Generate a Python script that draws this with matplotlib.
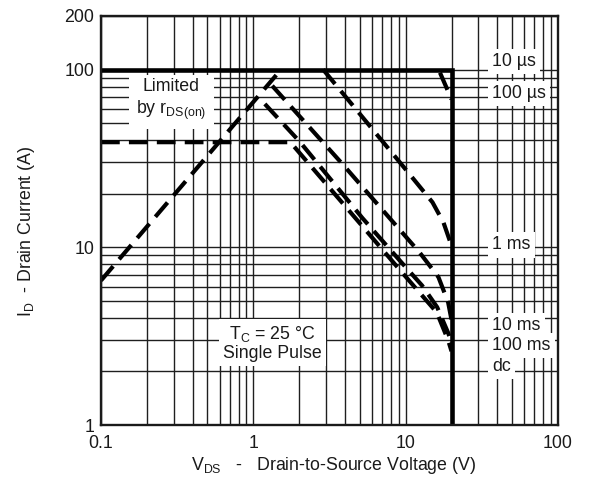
import matplotlib
matplotlib.use("Agg")
import matplotlib.pyplot as plt
from matplotlib.ticker import FixedLocator, NullFormatter

plt.rcParams["font.family"] = ["Liberation Sans", "DejaVu Sans"]
plt.rcParams["mathtext.fontset"] = "custom"
plt.rcParams["mathtext.rm"] = "Liberation Sans"
plt.rcParams["mathtext.it"] = "Liberation Sans:italic"

# safe operating area
limit_v = [0.1, 20, 20]
limit_i = [100, 100, 1]

rds_v = [0.1, 1.52]
rds_i = [6.5, 100]

us100_v = [16.8, 20]
us100_i = [96, 68]

ms1_v = [2.87, 9.6, 15.0, 17.7, 20]
ms1_i = [100, 28.6, 17.9, 13.8, 10.2]

ms10_v = [1.33, 3.9, 12.4, 16.4, 19.0, 20]
ms10_i = [81, 29.0, 9.3, 6.8, 4.9, 3.9]

ms100_v = [1.19, 2.03, 5.2, 9.4, 12.8, 16.1, 19.0, 20]
ms100_i = [64, 39.0, 14.6, 8.2, 6.1, 4.6, 3.3, 2.9]

dc_v = [0.1, 1.75, 9.1, 16.0, 19.0, 20]
dc_i = [39, 39, 7.5, 4.3, 3.0, 2.6]

x_major = [0.1, 1, 10, 100]
x_labels = ["0.1", "1", "10", "100"]
y_major = [1, 10, 100, 200]
y_labels = ["1", "10", "100", "200"]

fs = 12.8

fig = plt.figure(figsize=(5.91, 4.79), dpi=100)
ax = fig.add_axes([101 / 591, 1 - 425 / 479, 457 / 591, 409 / 479])
ax.set_xscale("log")
ax.set_yscale("log")
ax.set_xlim(0.1, 100)
ax.set_ylim(1, 200)

x_minor = [m * d for d in (0.1, 1, 10) for m in range(2, 10)]
y_minor = [m * d for d in (1, 10) for m in range(2, 10)]
ax.xaxis.set_major_locator(FixedLocator(x_major))
ax.xaxis.set_minor_locator(FixedLocator(x_minor))
ax.yaxis.set_major_locator(FixedLocator(y_major))
ax.yaxis.set_minor_locator(FixedLocator(y_minor))
ax.set_xticklabels(x_labels)
ax.set_yticklabels(y_labels)
ax.xaxis.set_minor_formatter(NullFormatter())
ax.yaxis.set_minor_formatter(NullFormatter())
ax.tick_params(which="both", length=0, labelsize=fs, labelcolor="0.1")
ax.tick_params(axis="x", pad=7)
ax.tick_params(axis="y", pad=5)

ax.set_axisbelow(True)
ax.grid(which="both", color="0.12", linewidth=1.0)
for s in ax.spines.values():
    s.set_linewidth(1.7)
    s.set_color("0.1")

dash = dict(color="black", linewidth=3.0, linestyle=(0, (4.5, 2.2)))
ax.plot(rds_v, rds_i, **dash)
ax.plot(us100_v, us100_i, **dash)
ax.plot(ms1_v, ms1_i, **dash)
ax.plot(ms10_v, ms10_i, **dash)
ax.plot(ms100_v, ms100_i, **dash)
ax.plot(dc_v, dc_i, **dash)
ax.plot(limit_v, limit_i, color="black", linewidth=3.3, solid_joinstyle="miter")

box = dict(facecolor="white", edgecolor="none", pad=3)
ax.text(0.29, 67, "Limited\nby r$_{\\mathregular{DS(on)}}$", ha="center", va="center",
        fontsize=fs, color="0.1", bbox=dict(facecolor="white", edgecolor="none", pad=5),
        linespacing=1.25)
ax.text(1.33, 2.9, "T$_{\\mathregular{C}}$ = 25 °C\nSingle Pulse", ha="center", va="center",
        fontsize=fs, color="0.1", bbox=box, linespacing=1.05)

right_labels = ["10 µs", "100 µs", "1 ms", "10 ms", "100 ms", "dc"]
right_y = [111, 73, 10.3, 3.62, 2.79, 2.13]
for lab, yy in zip(right_labels, right_y):
    ax.text(37, yy, lab, ha="left", va="center", fontsize=fs, color="0.1", bbox=box)

fig.text(334 / 591, 1 - 466 / 479, "V$_{\\mathregular{DS}}$   -   Drain-to-Source Voltage (V)",
         ha="center", va="center", fontsize=fs, color="0.1")
fig.text(27 / 591, 1 - 231 / 479, "I$_{\\mathregular{D}}$  - Drain Current (A)",
         ha="center", va="center", rotation=90, fontsize=fs, color="0.1")

fig.savefig("out.png", dpi=100)
